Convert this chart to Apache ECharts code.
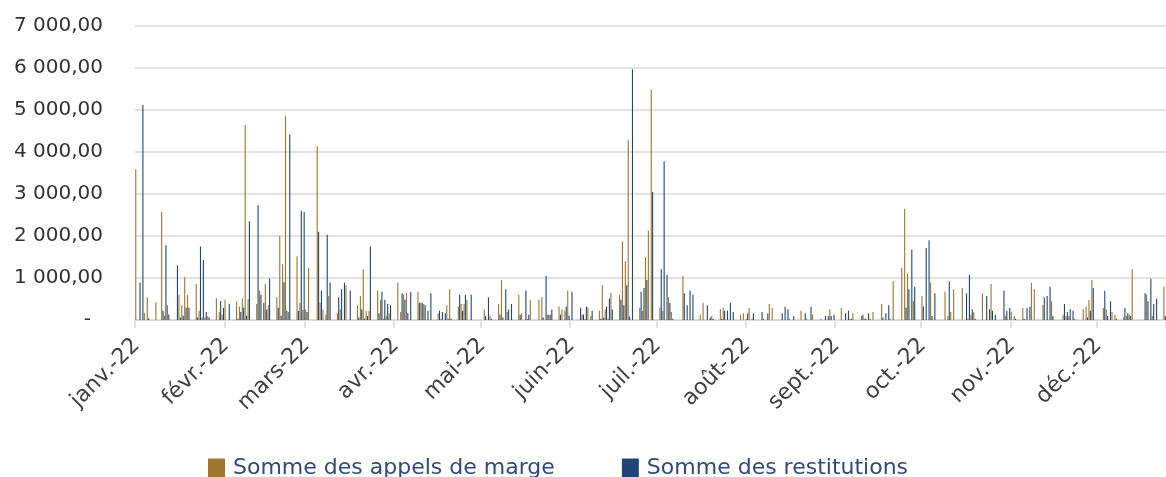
<!DOCTYPE html>
<html>
<head>
<meta charset="utf-8">
<script src="https://cdn.jsdelivr.net/npm/echarts@6/dist/echarts.min.js"></script>
<style>
  html, body { margin: 0; padding: 0; background: #ffffff; }
  #chart { width: 1166px; height: 477px; }
</style>
</head>
<body>
<div id="chart"></div>
<script>
// Calendar span shown on the axis (one category per calendar day)
const startDate = '2022-01-03';
const dayCount = 358;

// Month labels, placed on the 3rd of each month
const monthLabels = ['janv.-22', 'févr.-22', 'mars-22', 'avr.-22', 'mai-22', 'juin-22',
  'juil.-22', 'août-22', 'sept.-22', 'oct.-22', 'nov.-22', 'déc.-22'];

// Value axis
const yMax = 7000;
const yStep = 1000;

// Daily amounts, business days only (Mon..Fri, one line per week)
const appels = [
  3590, 0, 0, 160, 540,
  420, 0, 2570, 100, 350,
  0, 600, 350, 1020, 600,
  860, 220, 60, 60, 95,
  520, 190, 130, 480, 0,
  445, 320, 510, 4640, 500,
  380, 700, 0, 860, 350,
  540, 2000, 1330, 4850, 190,
  1520, 410, 240, 250, 1240,
  4140, 410, 250, 130, 570,
  160, 250, 0, 830, 0,
  350, 570, 1210, 220, 220,
  700, 480, 30, 95, 160,
  890, 190, 600, 640, 0,
  670, 410, 380, 0, 0,
  160, 30, 0, 350, 730,
  320, 380, 380, 480, 0,
  0, 0, 250, 0, 95,
  380, 950, 0, 190, 0,
  600, 160, 0, 30, 480,
  480, 540, 0, 127, 127,
  320, 250, 220, 700, 0,
  0, 130, 30, 290, 95,
  220, 830, 250, 30, 640,
  600, 1870, 1400, 4290, 0,
  290, 220, 1490, 2130, 5490,
  290, 220, 0, 540, 190,
  0, 1050, 0, 0, 0,
  130, 410, 0, 0, 95,
  254, 286, 0, 0, 0,
  127, 160, 30, 286, 30,
  0, 30, 0, 380, 286,
  0, 0, 0, 30, 0,
  222, 0, 30, 0, 127,
  30, 0, 0, 254, 0,
  286, 0, 0, 30, 160,
  95, 30, 0, 30, 190,
  380, 0, 0, 30, 920,
  1240, 2640, 1110, 0, 450,
  570, 0, 0, 890, 0,
  0, 670, 95, 190, 730,
  760, 0, 30, 127, 190,
  635, 0, 0, 860, 0,
  0, 95, 0, 190, 95,
  286, 0, 0, 889, 730,
  350, 0, 0, 445, 0,
  127, 95, 95, 0, 30,
  254, 318, 476, 950, 0,
  286, 254, 0, 190, 127,
  60, 95, 127, 1210, 0,
  0, 603, 0, 95, 0,
  794
];

const restitutions = [
  0, 890, 5120, 0, 40,
  0, 0, 220, 1780, 130,
  1300, 60, 100, 290, 290,
  60, 1750, 1430, 190, 60,
  0, 450, 290, 0, 380,
  30, 190, 290, 100, 2350,
  2730, 600, 410, 250, 990,
  290, 100, 900, 220, 4420,
  220, 2600, 2570, 190, 0,
  2100, 700, 0, 2030, 890,
  540, 730, 890, 0, 700,
  60, 250, 30, 95, 1750,
  160, 670, 480, 380, 350,
  0, 635, 480, 160, 670,
  410, 410, 350, 220, 635,
  220, 190, 160, 30, 30,
  600, 220, 600, 0, 600,
  0, 0, 95, 540, 30,
  130, 60, 730, 250, 380,
  127, 0, 700, 127, 0,
  0, 60, 1050, 127, 250,
  127, 0, 320, 100, 670,
  290, 130, 320, 0, 220,
  30, 60, 320, 510, 250,
  480, 350, 830, 80, 5970,
  670, 760, 950, 0, 3050,
  1210, 3780, 1080, 410, 30,
  0, 635, 350, 700, 600,
  0, 0, 350, 60, 30,
  30, 222, 222, 413, 190,
  0, 0, 160, 0, 160,
  190, 0, 160, 0, 0,
  160, 318, 254, 0, 95,
  0, 160, 0, 318, 0,
  0, 95, 95, 95, 127,
  0, 160, 222, 30, 0,
  127, 30, 160, 0, 0,
  60, 160, 350, 0, 0,
  0, 290, 730, 1680, 790,
  320, 1715, 1900, 95, 635,
  0, 0, 920, 0, 0,
  0, 635, 1080, 254, 30,
  0, 570, 254, 220, 127,
  700, 222, 286, 0, 30,
  30, 286, 318, 0, 0,
  540, 570, 790, 95, 0,
  381, 190, 254, 222, 0,
  0, 60, 220, 762, 0,
  699, 95, 445, 0, 30,
  286, 160, 95, 0, 0,
  635, 445, 984, 381, 508,
  95
];

// Spread the business-day values over the calendar days
const categories = [];
const appelsByDay = [];
const restitutionsByDay = [];
const monthTickIdx = new Set();
const t0 = Date.parse(startDate + 'T00:00:00Z');
let b = 0;
for (let i = 0; i < dayCount; i++) {
  const d = new Date(t0 + i * 86400000);
  categories.push(d.toISOString().slice(0, 10));
  if (d.getUTCDate() === 3) monthTickIdx.add(i);
  const wd = d.getUTCDay();
  if (wd === 0 || wd === 6) {
    appelsByDay.push(null);
    restitutionsByDay.push(null);
  } else {
    appelsByDay.push(b < appels.length ? appels[b] : null);
    restitutionsByDay.push(b < restitutions.length ? restitutions[b] : null);
    b++;
  }
}

function frNumber(v) {
  return String(v).replace(/\B(?=(\d{3})+(?!\d))/g, ' ') + ',00';
}

const FONT = 'DejaVu Sans';
const isMonthTick = (i) => monthTickIdx.has(i);

const chart = echarts.init(document.getElementById('chart'), null, { renderer: 'canvas' });
chart.setOption({
  animation: false,
  backgroundColor: '#ffffff',
  grid: { left: 135, right: 0, top: 26, bottom: 157, containLabel: false },
  legend: {
    left: 203,
    top: 452,
    icon: 'rect',
    itemWidth: 17,
    itemHeight: 19,
    itemGap: 67,
    textStyle: { fontFamily: FONT, fontSize: 22, color: '#2E4B7C', padding: [0, 0, 0, 3] },
    data: ['Somme des appels de marge', 'Somme des restitutions']
  },
  xAxis: {
    type: 'category',
    data: categories,
    boundaryGap: true,
    axisLine: { show: true, lineStyle: { color: '#d9d9d9', width: 1.5 } },
    axisTick: {
      show: true,
      interval: isMonthTick,
      alignWithLabel: false,
      length: 8,
      lineStyle: { color: '#d9d9d9', width: 1.5 }
    },
    axisLabel: {
      interval: isMonthTick,
      rotate: 45,
      margin: 22,
      fontFamily: FONT,
      fontSize: 22,
      color: '#404040',
      formatter: (val) => monthLabels[parseInt(val.slice(5, 7), 10) - 1]
    },
    splitLine: { show: false }
  },
  yAxis: {
    type: 'value',
    min: 0,
    max: yMax,
    interval: yStep,
    axisLine: { show: false },
    axisTick: { show: false },
    splitLine: { show: true, lineStyle: { color: '#d9d9d9', width: 1.5 } },
    axisLabel: {
      margin: 32,
      fontFamily: FONT,
      fontSize: 20,
      color: '#333333',
      formatter: (v) => (v === 0 ? '{dash|-}' : frNumber(v)),
      rich: { dash: { fontFamily: FONT, fontSize: 20, color: '#333333', padding: [0, 12, 0, 0] } }
    }
  },
  series: [
    {
      name: 'Somme des appels de marge',
      type: 'bar',
      data: appelsByDay,
      barWidth: 1.1,
      barGap: '25%',
      itemStyle: { color: '#A0752E' }
    },
    {
      name: 'Somme des restitutions',
      type: 'bar',
      data: restitutionsByDay,
      barWidth: 1.1,
      barGap: '25%',
      itemStyle: { color: '#1F467A' }
    }
  ]
});
</script>
</body>
</html>
